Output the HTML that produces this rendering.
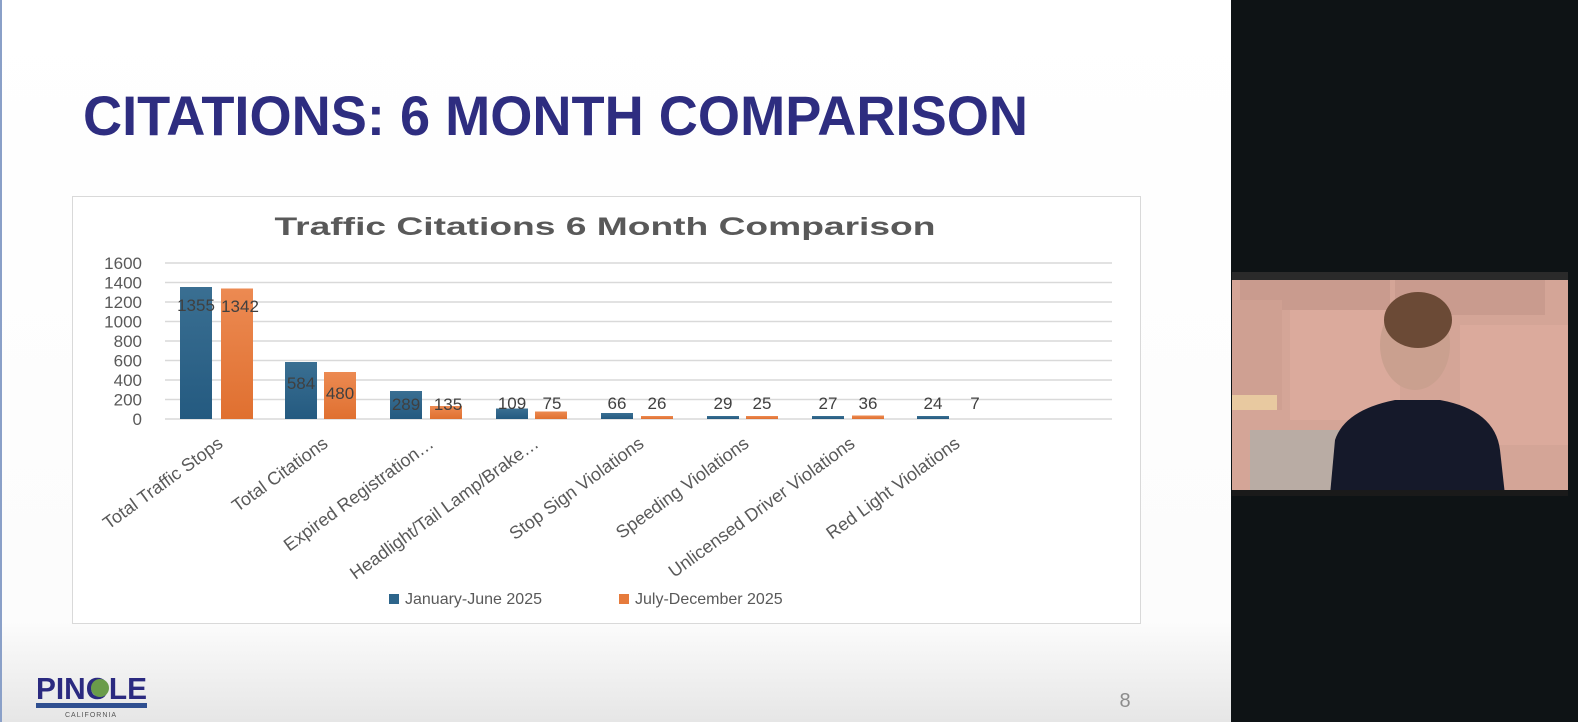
<!DOCTYPE html>
<html><head><meta charset="utf-8"><style>
html,body{margin:0;padding:0;width:1578px;height:722px;overflow:hidden;background:#0e1315}
svg{display:block}
text{font-family:"Liberation Sans",sans-serif}
</style></head><body>
<svg width="1578" height="722" viewBox="0 0 1578 722">
<defs>
<linearGradient id="bg" x1="0" y1="0" x2="0" y2="1">
<stop offset="0" stop-color="#ffffff"/><stop offset="0.86" stop-color="#fcfcfc"/><stop offset="1" stop-color="#e6e6e6"/>
</linearGradient>
<linearGradient id="bl" x1="0" y1="0" x2="0" y2="1"><stop offset="0" stop-color="#3a6f92"/><stop offset="1" stop-color="#245a80"/></linearGradient>
<linearGradient id="or" x1="0" y1="0" x2="0" y2="1"><stop offset="0" stop-color="#ec8a52"/><stop offset="1" stop-color="#e07030"/></linearGradient>
</defs>
<rect x="0" y="0" width="1231" height="722" fill="url(#bg)"/>
<rect x="0" y="0" width="2" height="722" fill="#8aa0c8"/>
<text x="83" y="135" font-size="56" font-weight="bold" fill="#2e2d80" textLength="945" lengthAdjust="spacingAndGlyphs">CITATIONS: 6 MONTH COMPARISON</text>
<rect x="72.5" y="196.5" width="1068" height="427" fill="#fff" stroke="#d9d9d9"/>
<text x="605" y="235" font-size="25" font-weight="bold" fill="#595959" text-anchor="middle" textLength="661" lengthAdjust="spacingAndGlyphs">Traffic Citations 6 Month Comparison</text>
<g stroke="#d9d9d9" stroke-width="1.5">
<line x1="165" y1="263" x2="1112" y2="263"/><line x1="165" y1="282.5" x2="1112" y2="282.5"/>
<line x1="165" y1="302" x2="1112" y2="302"/><line x1="165" y1="321.5" x2="1112" y2="321.5"/>
<line x1="165" y1="341" x2="1112" y2="341"/><line x1="165" y1="360.5" x2="1112" y2="360.5"/>
<line x1="165" y1="380" x2="1112" y2="380"/><line x1="165" y1="399.5" x2="1112" y2="399.5"/>
<line x1="165" y1="419" x2="1112" y2="419"/>
</g>
<g font-size="17" fill="#595959" text-anchor="end">
<text x="142" y="269">1600</text><text x="142" y="288.5">1400</text><text x="142" y="308">1200</text>
<text x="142" y="327.5">1000</text><text x="142" y="347">800</text><text x="142" y="366.5">600</text>
<text x="142" y="386">400</text><text x="142" y="405.5">200</text><text x="142" y="425">0</text>
</g>
<g id="bars">
<rect x="180" y="287" width="32" height="132" fill="url(#bl)"/><rect x="221" y="288.5" width="32" height="130.5" fill="url(#or)"/>
<rect x="285" y="362" width="32" height="57" fill="url(#bl)"/><rect x="324" y="372" width="32" height="47" fill="url(#or)"/>
<rect x="390" y="391" width="32" height="28" fill="url(#bl)"/><rect x="430" y="406" width="32" height="13" fill="url(#or)"/>
<rect x="496" y="408.5" width="32" height="10.5" fill="url(#bl)"/><rect x="535" y="411.5" width="32" height="7.5" fill="url(#or)"/>
<rect x="601" y="413" width="32" height="6" fill="url(#bl)"/><rect x="641" y="416" width="32" height="3" fill="url(#or)"/>
<rect x="707" y="416" width="32" height="3" fill="url(#bl)"/><rect x="746" y="416" width="32" height="3" fill="url(#or)"/>
<rect x="812" y="416" width="32" height="3" fill="url(#bl)"/><rect x="852" y="415.5" width="32" height="3.5" fill="url(#or)"/>
<rect x="917" y="416" width="32" height="3" fill="url(#bl)"/>
</g>
<g font-size="17" fill="#404040" text-anchor="middle">
<text x="196" y="311">1355</text><text x="240" y="312">1342</text>
<text x="301" y="389">584</text><text x="340" y="399">480</text>
<text x="406" y="410">289</text><text x="448" y="410">135</text>
<text x="512" y="409">109</text><text x="552" y="409">75</text>
<text x="617" y="409">66</text><text x="657" y="409">26</text>
<text x="723" y="409">29</text><text x="762" y="409">25</text>
<text x="828" y="409">27</text><text x="868" y="409">36</text>
<text x="933" y="409">24</text><text x="975" y="409">7</text>
</g>
<g font-size="18" fill="#595959" text-anchor="end">
<text transform="translate(224,446) rotate(-36)">Total Traffic Stops</text>
<text transform="translate(329,446) rotate(-36)">Total Citations</text>
<text transform="translate(435,446) rotate(-36)">Expired Registration…</text>
<text transform="translate(540,446) rotate(-36)">Headlight/Tail Lamp/Brake…</text>
<text transform="translate(645,446) rotate(-36)">Stop Sign Violations</text>
<text transform="translate(750,446) rotate(-36)">Speeding Violations</text>
<text transform="translate(856,446) rotate(-36)">Unlicensed Driver Violations</text>
<text transform="translate(961,446) rotate(-36)">Red Light Violations</text>
</g>
<rect x="389" y="594" width="10" height="10" fill="#2d658b"/>
<text x="405" y="604" font-size="16" fill="#595959">January-June 2025</text>
<rect x="619" y="594" width="10" height="10" fill="#e67b3c"/>
<text x="635" y="604" font-size="16" fill="#595959">July-December 2025</text>
<text x="1125" y="707" font-size="20" fill="#8c8c8c" text-anchor="middle">8</text>
<text x="36" y="699" font-size="31" font-weight="bold" fill="#2b2a80" textLength="111" lengthAdjust="spacingAndGlyphs">PINOLE</text>
<circle cx="100" cy="688" r="9" fill="#6a9c4a"/>
<rect x="36" y="703" width="111" height="5" fill="#2f4f90"/>
<text x="91" y="717" font-size="7" fill="#555" text-anchor="middle" letter-spacing="1">CALIFORNIA</text>
<rect x="1231" y="0" width="347" height="722" fill="#0e1315"/>
<rect x="1232" y="272" width="336" height="223" fill="#d4a597"/>
<rect x="1232" y="272" width="336" height="8" fill="#2a2a2a"/>
<rect x="1240" y="280" width="150" height="30" fill="#c99b8e"/>
<rect x="1395" y="280" width="150" height="35" fill="#c99b8e"/>
<rect x="1232" y="300" width="50" height="110" fill="#cfa092"/>
<rect x="1290" y="310" width="110" height="110" fill="#dbaa9c"/>
<rect x="1460" y="325" width="108" height="120" fill="#dbaa9c"/>
<rect x="1250" y="430" width="120" height="65" fill="#b9aca4"/>
<rect x="1232" y="395" width="45" height="15" fill="#e8c9a0"/>
<ellipse cx="1415" cy="345" rx="35" ry="45" fill="#caa08f"/>
<ellipse cx="1418" cy="320" rx="34" ry="28" fill="#6b4a36"/>
<path d="M1330 495 L1335 440 Q1345 410 1395 400 L1440 400 Q1495 410 1500 450 L1505 495 Z" fill="#15192a"/>
<rect x="1232" y="490" width="336" height="6" fill="#1a1a1a"/>
</svg>
</body></html>
